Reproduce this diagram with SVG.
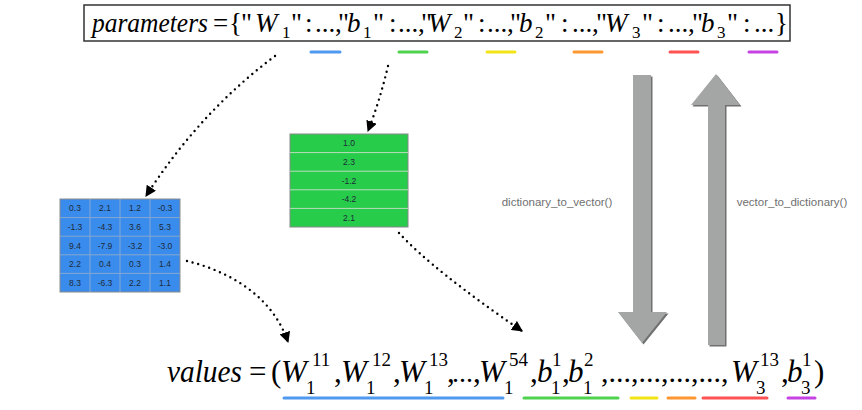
<svg xmlns="http://www.w3.org/2000/svg" width="862" height="410" viewBox="0 0 862 410">
<defs>
<marker id="ah" viewBox="0 0 10 10" refX="9" refY="5" markerWidth="11" markerHeight="11" markerUnits="userSpaceOnUse" orient="auto">
<path d="M0,0 L10,5 L0,10 z" fill="#000"/>
</marker>
<style>
.m{font-family:"Liberation Serif","Times New Roman",serif;fill:#000}
.i{font-style:italic}
.t{font-size:27px}
.ts{font-size:17px}
.b{font-size:31px}
.bs{font-size:19px}
.bp{font-size:28px}
.bq{font-size:30px}
.cell{font-family:"Liberation Sans",Arial,sans-serif;font-size:8.5px;fill:#1e2a38;text-anchor:middle}
.lab{font-family:"Liberation Sans",Arial,sans-serif;font-size:11.5px;fill:#707070}
.dot{fill:none;stroke:#000;stroke-width:2.4;stroke-linecap:round;stroke-dasharray:0 5.8}
.ul{stroke-width:3;stroke-linecap:round;opacity:0.9}
.bg{fill:#3a8cec}
.bl{stroke:#86a7cf;stroke-width:1}
.gg{fill:#27cc4b}
.gl{stroke:#bcdcbc;stroke-width:1}
.arr{fill:#a4a6a5}
.sh{fill:#707070}
</style>
</defs>

<g id="parameters">
<rect x="84" y="5" width="706" height="36" fill="#fff" stroke="#333" stroke-width="1.5"/>
<text class="m t" y="32">
<tspan class="i" x="92" textLength="116" lengthAdjust="spacingAndGlyphs">parameters</tspan>
<tspan x="213">=</tspan><tspan x="229">{</tspan><tspan x="241">"</tspan>
<tspan class="i" x="255">W</tspan><tspan class="ts" x="282" y="38">1</tspan><tspan x="291" y="32">"</tspan><tspan x="305">:</tspan><tspan x="315">...</tspan><tspan x="335">,</tspan><tspan x="338">"</tspan>
<tspan class="i" x="347">b</tspan><tspan class="ts" x="363" y="38">1</tspan><tspan x="373" y="32">"</tspan><tspan x="389">:</tspan><tspan x="398">...</tspan><tspan x="418">,</tspan><tspan x="421">"</tspan>
<tspan class="i" x="428">W</tspan><tspan class="ts" x="454" y="38">2</tspan><tspan x="463" y="32">"</tspan><tspan x="478">:</tspan><tspan x="487">...</tspan><tspan x="507">,</tspan><tspan x="510">"</tspan>
<tspan class="i" x="519">b</tspan><tspan class="ts" x="535" y="38">2</tspan><tspan x="545" y="32">"</tspan><tspan x="561">:</tspan><tspan x="572">...</tspan><tspan x="592">,</tspan><tspan x="596">"</tspan>
<tspan class="i" x="605">W</tspan><tspan class="ts" x="632" y="38">3</tspan><tspan x="642" y="32">"</tspan><tspan x="657">:</tspan><tspan x="668">...</tspan><tspan x="688">,</tspan><tspan x="692">"</tspan>
<tspan class="i" x="701">b</tspan><tspan class="ts" x="717" y="38">3</tspan><tspan x="727" y="32">"</tspan><tspan x="743">:</tspan><tspan x="754">...</tspan><tspan x="775">}</tspan>
</text>
<line class="ul" x1="311" y1="52" x2="340" y2="52" stroke="#3d8ef0"/>
<line class="ul" x1="399" y1="52" x2="427" y2="52" stroke="#3ccf3c"/>
<line class="ul" x1="487" y1="52" x2="515" y2="52" stroke="#f2e200"/>
<line class="ul" x1="574" y1="52" x2="602" y2="52" stroke="#ff8c1a"/>
<line class="ul" x1="670" y1="52" x2="698" y2="52" stroke="#ff4040"/>
<line class="ul" x1="749" y1="52" x2="777" y2="52" stroke="#c02ee0"/>
</g>

<g id="values">
<text class="m b" y="382">
<tspan class="i" x="167" textLength="75" lengthAdjust="spacingAndGlyphs">values</tspan>
<tspan x="249">=</tspan><tspan x="271">(</tspan>
<tspan class="i" x="281">W</tspan><tspan class="bs" x="306" y="394">1</tspan><tspan class="bs" x="312" y="366">11</tspan><tspan x="334" y="382">,</tspan>
<tspan class="i" x="341">W</tspan><tspan class="bs" x="366" y="394">1</tspan><tspan class="bs" x="372" y="366">12</tspan><tspan x="393" y="382">,</tspan>
<tspan class="i" x="399">W</tspan><tspan class="bs" x="424" y="394">1</tspan><tspan class="bs" x="429" y="366">13</tspan><tspan x="447" y="382">,</tspan><tspan class="bp" x="452" y="382">...</tspan><tspan x="473" y="382">,</tspan>
<tspan class="i" x="479">W</tspan><tspan class="bs" x="504" y="394">1</tspan><tspan class="bs" x="509" y="366">54</tspan><tspan x="530" y="382">,</tspan>
<tspan class="i" x="537">b</tspan><tspan class="bs" x="551" y="394">1</tspan><tspan class="bs" x="552" y="366">1</tspan><tspan x="562" y="382">,</tspan>
<tspan class="i" x="568">b</tspan><tspan class="bs" x="583" y="394">1</tspan><tspan class="bs" x="584" y="366">2</tspan><tspan class="bq" x="601" y="382">,...,...,...,...,</tspan>
<tspan class="i" x="731">W</tspan><tspan class="bs" x="756" y="394">3</tspan><tspan class="bs" x="760" y="366">13</tspan><tspan x="781" y="382">,</tspan>
<tspan class="i" x="787">b</tspan><tspan class="bs" x="801" y="394">3</tspan><tspan class="bs" x="802" y="366">1</tspan><tspan x="814" y="382">)</tspan>
</text>
<line class="ul" x1="284" y1="398" x2="503" y2="398" stroke="#3d8ef0"/>
<line class="ul" x1="524" y1="398" x2="618" y2="398" stroke="#3ccf3c"/>
<line class="ul" x1="631" y1="398" x2="657" y2="398" stroke="#f2e200"/>
<line class="ul" x1="668" y1="398" x2="695" y2="398" stroke="#ff8c1a"/>
<line class="ul" x1="703" y1="398" x2="767" y2="398" stroke="#ff4040"/>
<line class="ul" x1="788" y1="398" x2="815" y2="398" stroke="#c02ee0"/>
</g>

<g id="matrix-W1">
<rect class="bg" x="60" y="199" width="120" height="93" stroke="#8c8c8c" stroke-width="1"/>
<line class="bl" x1="90" y1="199" x2="90" y2="292"/>
<line class="bl" x1="120" y1="199" x2="120" y2="292"/>
<line class="bl" x1="150" y1="199" x2="150" y2="292"/>
<line class="bl" x1="60" y1="217.6" x2="180" y2="217.6"/>
<line class="bl" x1="60" y1="236.2" x2="180" y2="236.2"/>
<line class="bl" x1="60" y1="254.8" x2="180" y2="254.8"/>
<line class="bl" x1="60" y1="273.4" x2="180" y2="273.4"/>
<text class="cell" y="211.3"><tspan x="75">0.3</tspan><tspan x="105">2.1</tspan><tspan x="135">1.2</tspan><tspan x="165">-0.3</tspan></text>
<text class="cell" y="229.9"><tspan x="75">-1.3</tspan><tspan x="105">-4.3</tspan><tspan x="135">3.6</tspan><tspan x="165">5.3</tspan></text>
<text class="cell" y="248.5"><tspan x="75">9.4</tspan><tspan x="105">-7.9</tspan><tspan x="135">-3.2</tspan><tspan x="165">-3.0</tspan></text>
<text class="cell" y="267.1"><tspan x="75">2.2</tspan><tspan x="105">0.4</tspan><tspan x="135">0.3</tspan><tspan x="165">1.4</tspan></text>
<text class="cell" y="285.7"><tspan x="75">8.3</tspan><tspan x="105">-6.3</tspan><tspan x="135">2.2</tspan><tspan x="165">1.1</tspan></text>
</g>

<g id="vector-b1">
<rect class="gg" x="290" y="134" width="118" height="93" stroke="#888" stroke-width="1"/>
<line class="gl" x1="290" y1="152.6" x2="408" y2="152.6"/>
<line class="gl" x1="290" y1="171.2" x2="408" y2="171.2"/>
<line class="gl" x1="290" y1="189.8" x2="408" y2="189.8"/>
<line class="gl" x1="290" y1="208.4" x2="408" y2="208.4"/>
<text class="cell" x="349" y="146.3">1.0</text>
<text class="cell" x="349" y="164.9">2.3</text>
<text class="cell" x="349" y="183.5">-1.2</text>
<text class="cell" x="349" y="202.1">-4.2</text>
<text class="cell" x="349" y="220.7">2.1</text>
</g>

<g id="arrow-down">
<polygon class="sh" points="634.5,76.5 652.5,76.5 652.5,313.5 668.5,313.5 643.5,344.5 619.5,313.5 634.5,313.5"/>
<polygon class="arr" points="633,75 651,75 651,312 667,312 642,343 618,312 633,312"/>
<text class="lab" x="557" y="206" text-anchor="middle">dictionary_to_vector()</text>
</g>

<g id="arrow-up">
<polygon class="sh" points="717.5,75.5 741.5,106.5 726.5,106.5 726.5,346.5 709.5,346.5 709.5,106.5 692.5,106.5"/>
<polygon class="arr" points="716,74 740,105 725,105 725,345 708,345 708,105 691,105"/>
<text class="lab" x="792" y="206" text-anchor="middle">vector_to_dictionary()</text>
</g>

<g id="connectors">
<path class="dot" d="M275,56 Q200,112 146,196" marker-end="url(#ah)"/>
<path class="dot" d="M388,66 Q380,100 368,131" marker-end="url(#ah)"/>
<path class="dot" d="M187,261 C228,271 272,295 288,342" marker-end="url(#ah)"/>
<path class="dot" d="M399,233 Q433,270 522,331" marker-end="url(#ah)"/>
</g>
</svg>
